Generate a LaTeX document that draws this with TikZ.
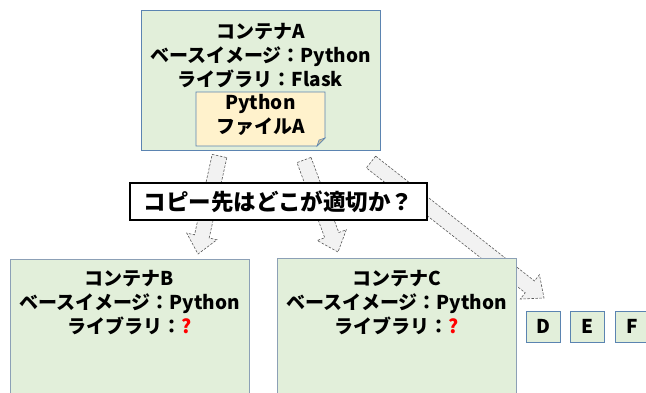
\documentclass[tikz,border=0pt]{standalone}
\usepackage{fontspec}
\setmainfont{Noto Sans CJK JP}
\usetikzlibrary{calc}
\definecolor{boxgreen}{HTML}{E2EFDA}
\definecolor{edgeblue}{HTML}{5B84B1}
\definecolor{edgegray}{HTML}{8CA0B6}
\definecolor{notefill}{HTML}{FFF2CC}
\definecolor{foldfill}{HTML}{CDBF9A}
\definecolor{arrowfill}{HTML}{F2F2F2}
\definecolor{arrowedge}{HTML}{595959}
\definecolor{qred}{HTML}{FF0000}
\tikzset{
  container/.style={draw=edgegray, fill=boxgreen, line width=0.9pt, inner sep=0pt, anchor=north west},
  containerA/.style={container, draw=edgeblue},
  boxtext/.style={align=center, inner sep=0pt, font=\bfseries\fontsize{19}{24}\selectfont},
  letterbox/.style={draw=edgeblue, fill=boxgreen, line width=0.9pt, minimum width=34pt, minimum height=31pt, inner sep=0pt, font=\bfseries\fontsize{19}{24}\selectfont},
  question/.style={draw=black, fill=white, line width=1.4pt, minimum width=297pt, minimum height=37pt, inner sep=0pt, font=\bfseries\fontsize{22.5}{26}\selectfont},
  blockarrow/.style={draw=arrowedge, fill=arrowfill, line width=0.6pt, dash pattern=on 2.5pt off 1.5pt, line join=miter},
}
% block arrow from coordinate #1 to tip #2 (shaft half width 7.5, head half width 15.5, head length 18)
\newcommand{\blockarrowpath}[2]{%
  \coordinate (#1n) at ($(#2)!18pt!(#1)$);
  \draw[blockarrow]
    ($(#1)!7.5pt!90:(#2)$) -- ($(#1n)!7.5pt!-90:(#1)$) -- ($(#1n)!15.5pt!-90:(#1)$) -- (#2)
    -- ($(#1n)!15.5pt!90:(#1)$) -- ($(#1n)!7.5pt!90:(#1)$) -- ($(#1)!7.5pt!-90:(#2)$) -- cycle;
}
\begin{document}
\begin{tikzpicture}[x=1pt, y=-1pt]
\useasboundingbox (0,0) rectangle (646,392);
\clip (0,0) rectangle (646,392);

% copy arrows, drawn first so the boxes cover them
\coordinate (s1) at (219.5,156);
\coordinate (t1) at (198,254);
\coordinate (s2) at (304,160);
\coordinate (t2) at (338,252);
\coordinate (s3) at (371,162);
\coordinate (t3) at (544,298);
\blockarrowpath{s1}{t1}
\blockarrowpath{s2}{t2}
\blockarrowpath{s3}{t3}

% container A with its Python file
\node[containerA, minimum width=239pt, minimum height=140pt] (ca) at (141,10) {};
\node[boxtext] (catext) at (260.5,56) {コンテナA\\ベースイメージ：Python\\ライブラリ：Flask};
\draw[draw=edgeblue, fill=notefill, line width=0.9pt]
  (196,92) coordinate (nw) -- (325,92) -- (325,138) -- (317,146) -- (196,146) -- cycle;
\fill[foldfill, draw=edgeblue, line width=0.6pt] (317,146) -- (319,140) -- (325,138) -- cycle;
\node[boxtext] (notetext) at (260.5,115) {Python\\ファイルA};

% question
\node[question] (q) at (278.5,201.5) {コピー先はどこが適切か？};

% containers B and C
\node[container, minimum width=239pt, minimum height=150pt] (cb) at (10,259) {};
\node[boxtext] (cbtext) at (129.5,303) {コンテナB\\ベースイメージ：Python\\ライブラリ：\textcolor{qred}{?}};
\node[container, minimum width=239pt, minimum height=150pt] (cc) at (277,258) {};
\node[boxtext] (cctext) at (396.5,303) {コンテナC\\ベースイメージ：Python\\ライブラリ：\textcolor{qred}{?}};

% further destinations
\node[letterbox] (d) at (543,326.5) {D};
\node[letterbox] (e) at (587.5,326.5) {E};
\node[letterbox] (f) at (632.5,326.5) {F};
\end{tikzpicture}
\end{document}
